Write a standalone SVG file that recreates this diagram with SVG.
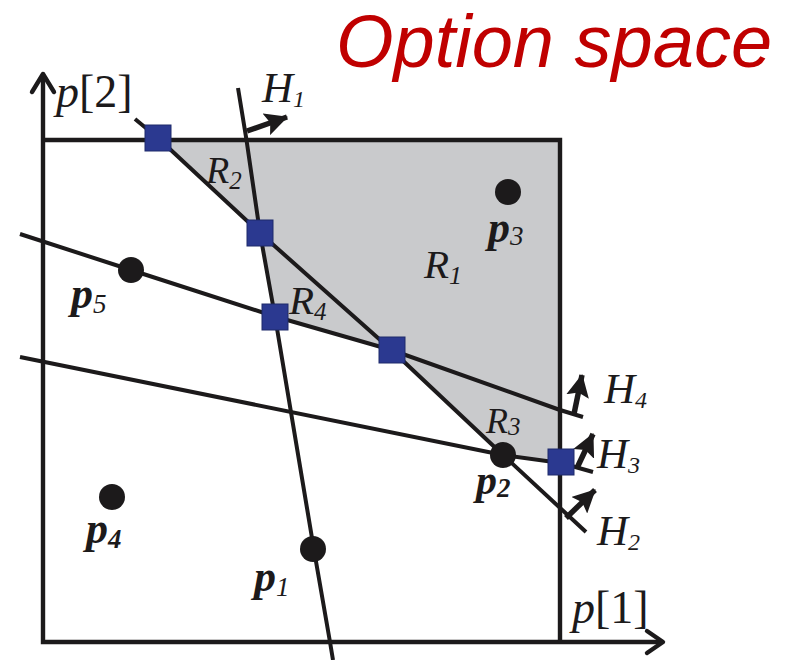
<svg xmlns="http://www.w3.org/2000/svg" width="786" height="660" viewBox="0 0 786 660">
<style>
.ln{fill:none;stroke:#1c1a1b;stroke-width:4;stroke-linejoin:round}
.ax{fill:none;stroke:#1c1a1b;stroke-width:4.4}
.chev{fill:none;stroke:#1c1a1b;stroke-width:4.4;stroke-linecap:round;stroke-linejoin:round}
.sq{fill:#2b3990;stroke:#1f2a6a;stroke-width:1}
.dot{fill:#1c1a1b}
.arr{fill:none;stroke:#1c1a1b;stroke-width:5.5}
.it{font-family:"Liberation Serif","Times New Roman",serif;font-style:italic;fill:#1c1a1b}
.rm{font-family:"Liberation Serif","Times New Roman",serif;fill:#1c1a1b}
.pb{font-family:"Liberation Serif","Times New Roman",serif;font-style:italic;font-weight:bold;fill:#1c1a1b}
.title{font-family:"Liberation Sans",Arial,sans-serif;font-style:italic;fill:#c00000}
</style>
<defs>
<marker id="ah" viewBox="0 0 22 22" markerUnits="userSpaceOnUse" markerWidth="23" markerHeight="23" refX="21" refY="11" orient="auto">
<path d="M0,0 L22,11 L0,22 L4,11 z" fill="#1c1a1b"/>
</marker>
</defs>
<rect width="786" height="660" fill="#ffffff"/>
<text class="title" x="336" y="67" font-size="74">Option space</text>
<g id="region">
<polygon points="158,140 560,140 560,463 503,455 391.5,350 275,316.5 260,233" fill="#c9cacc"/>
</g>
<g id="connectors">
<polyline class="ax" points="43,75 43,642 662,642"/>
<polyline class="chev" points="32,92 43,74 54,92"/>
<polyline class="chev" points="647,631 663,642 647,653"/>
<polyline class="ax" points="43,140 560,140 560,642"/>
<polyline id="H1" class="ln" points="238,88 246.5,140 260,233 275,316.5 314,550 330,642 333,660"/>
<polyline id="H2" class="ln" points="135,119 158,138 260,233 391.5,350 503,455 586,532"/>
<polyline id="H3" class="ln" points="20,357 503,455 561,463 593,472"/>
<polyline id="H4" class="ln" points="20,234 131,270 275,316.5 391.5,350 560,410 583,417"/>
<line class="arr" x1="247" y1="131" x2="287" y2="117" marker-end="url(#ah)"/>
<line class="arr" x1="574" y1="414" x2="582" y2="375" marker-end="url(#ah)"/>
<line class="arr" x1="577" y1="468" x2="593" y2="434" marker-end="url(#ah)"/>
<line class="arr" x1="566" y1="518" x2="595" y2="490" marker-end="url(#ah)"/>
</g>
<g id="vertices">
<rect class="sq" x="145" y="125" width="26" height="26"/>
<rect class="sq" x="247" y="220" width="26" height="26"/>
<rect class="sq" x="262" y="304" width="26" height="26"/>
<rect class="sq" x="379" y="337" width="26" height="26"/>
<rect class="sq" x="548" y="449" width="26" height="26"/>
</g>
<g id="p1"><circle class="dot" cx="313" cy="549" r="13"/><text class="pb" x="254" y="591" font-size="44">p<tspan font-weight="normal" font-size="27" dy="5">1</tspan></text></g>
<g id="p2"><circle class="dot" cx="503" cy="455" r="13"/><text class="pb" x="476" y="494" font-size="42">p<tspan font-size="27" dy="3">2</tspan></text></g>
<g id="p3"><circle class="dot" cx="508" cy="192" r="13"/><text class="pb" x="488" y="242" font-size="44">p<tspan font-weight="normal" font-size="27" dy="3">3</tspan></text></g>
<g id="p4"><circle class="dot" cx="112" cy="497" r="13"/><text class="pb" x="86" y="543" font-size="44">p<tspan font-size="27" dy="5">4</tspan></text></g>
<g id="p5"><circle class="dot" cx="131" cy="270" r="13"/><text class="pb" x="71" y="308" font-size="44">p<tspan font-weight="normal" font-size="27" dy="5">5</tspan></text></g>
<g id="labels">
<text class="it" x="56" y="107" font-size="46">p<tspan class="rm" font-style="normal">[2]</tspan></text>
<text class="it" x="572" y="623" font-size="46">p<tspan class="rm" font-style="normal">[1]</tspan></text>
<text class="it" x="262" y="102" font-size="43">H<tspan font-size="24" dy="5">1</tspan></text>
<text class="it" x="604" y="403" font-size="43">H<tspan font-size="24" dy="5">4</tspan></text>
<text class="it" x="597" y="468" font-size="43">H<tspan font-size="24" dy="5">3</tspan></text>
<text class="it" x="597" y="545" font-size="43">H<tspan font-size="24" dy="5">2</tspan></text>
<text class="it" x="424" y="278" font-size="41">R<tspan font-size="26" dy="6">1</tspan></text>
<text class="it" x="206" y="183" font-size="38">R<tspan font-size="25" dy="6">2</tspan></text>
<text class="it" x="486" y="433" font-size="36">R<tspan font-size="25" dy="2">3</tspan></text>
<text class="it" x="289" y="314" font-size="41">R<tspan font-size="25" dy="6">4</tspan></text>
</g>
</svg>
